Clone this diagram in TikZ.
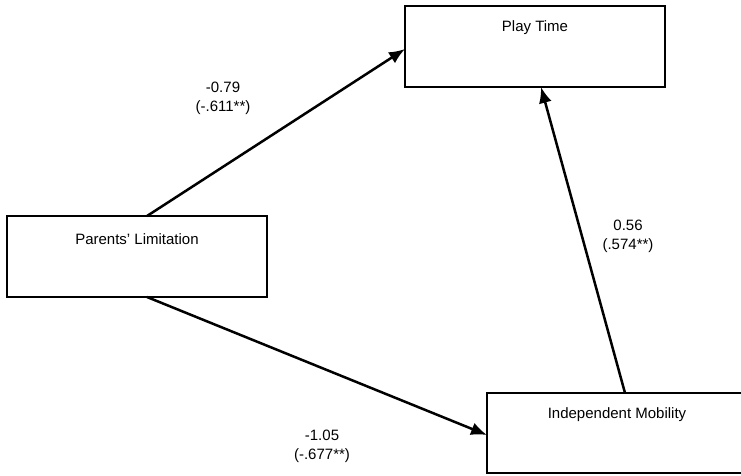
\documentclass[tikz,border=0pt]{standalone}
\usepackage{fontspec}
\setmainfont{Liberation Sans}
\usetikzlibrary{arrows.meta}
\begin{document}
\begin{tikzpicture}[x=1pt,y=-1pt,
  boxst/.style={draw=black,line width=2pt,fill=white},
  lbl/.style={font=\fontsize{15}{18}\selectfont,inner sep=0pt,anchor=center},
  arr/.style={line width=2.5pt,-{Latex[length=16pt,width=13pt]}},
  cl/.style={font=\fontsize{15}{19}\selectfont,align=center,inner sep=0pt}]
\useasboundingbox (0,0) rectangle (741,475);
\clip (0,0) rectangle (741,475);
\draw[boxst] (405,6) rectangle (665,87);
\draw[boxst] (7,216) rectangle (267,297);
\draw[boxst] (487,393) rectangle (760,473);
\coordinate (pt) at (405,6);
\node[lbl] (ptt) at (535,28) {Play Time};
\node[lbl] (plt) at (137,239) {Parents’ Limitation};
\node[lbl] (imt) at (617,415) {Independent Mobility};
\coordinate (plTop) at (147,216);
\coordinate (plBot) at (147,297);
\coordinate (ptLeft) at (405,49);
\coordinate (ptBot) at (541,87);
\coordinate (imLeft) at (487,435);
\coordinate (imTop) at (625,393);
\draw[arr] (plTop) -- (ptLeft);
\draw[arr] (plBot) -- (imLeft);
\draw[arr] (imTop) -- (ptBot);
\node[cl] (l1) at (223,98) {-0.79\\(-.611**)};
\node[cl] (l2) at (628,236) {0.56\\(.574**)};
\node[cl] (l3) at (322,446) {-1.05\\(-.677**)};
\end{tikzpicture}
\end{document}
